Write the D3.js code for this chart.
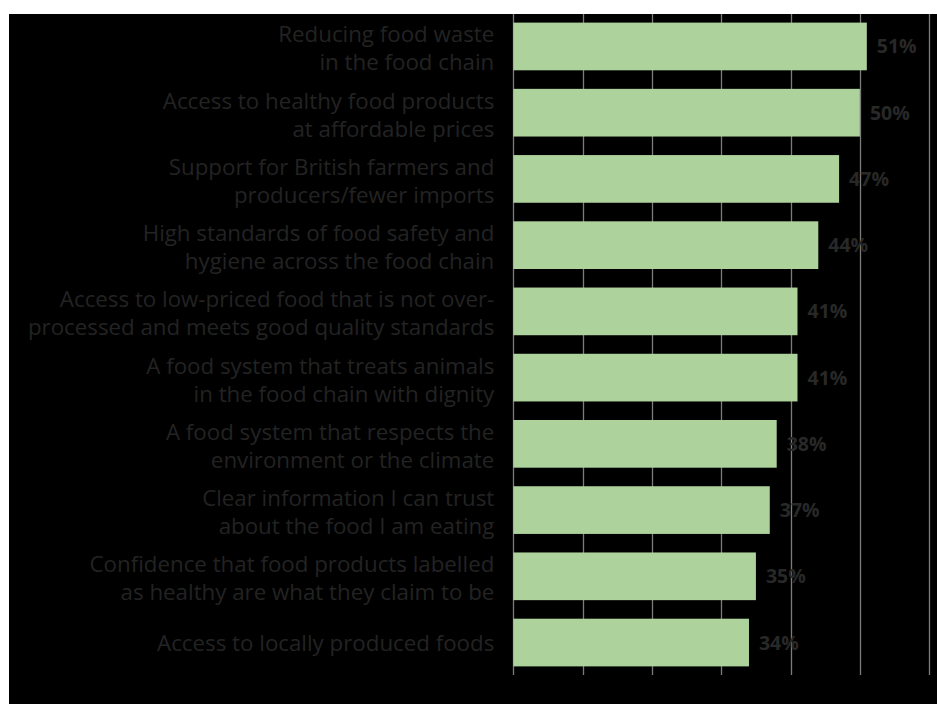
<!DOCTYPE html>
<html>
<head>
<meta charset="utf-8">
<script src="https://cdn.jsdelivr.net/npm/d3@7"></script>
<style>
  html, body { margin: 0; padding: 0; background: #ffffff; }
  svg { display: block; }
</style>
</head>
<body>
<svg id="chart" width="937" height="704"></svg>
<script>
// Share of respondents naming each aspect as important
const categories = [
  ["Reducing food waste", "in the food chain"],
  ["Access to healthy food products", "at affordable prices"],
  ["Support for British farmers and", "producers/fewer imports"],
  ["High standards of food safety and", "hygiene across the food chain"],
  ["Access to low-priced food that is not over-", "processed and meets good quality standards"],
  ["A food system that treats animals", "in the food chain with dignity"],
  ["A food system that respects the", "environment or the climate"],
  ["Clear information I can trust", "about the food I am eating"],
  ["Confidence that food products labelled", "as healthy are what they claim to be"],
  ["Access to locally produced foods"]
];
const values = [51, 50, 47, 44, 41, 41, 38, 37, 35, 34];
const valueLabels = ["51%", "50%", "47%", "44%", "41%", "41%", "38%", "37%", "35%", "34%"];
const gridTicks = [0, 10, 20, 30, 40, 50, 60];

const svg = d3.select("#chart");
const W = 937, H = 704;
const panel = { left: 9, top: 14 };
const plot = { left: 513.3, right: 929.2, top: 14, bottom: 675 };

// Dark panel
svg.append("rect")
  .attr("x", panel.left).attr("y", panel.top)
  .attr("width", W - panel.left).attr("height", H - panel.top)
  .attr("fill", "#000000");

const x = d3.scaleLinear().domain([0, 60]).range([plot.left, plot.right]);
const y = d3.scaleBand()
  .domain(d3.range(values.length))
  .range([plot.top, plot.bottom])
  .paddingInner(0.28)
  .paddingOuter(0.13);

// Vertical gridlines
svg.append("g")
  .selectAll("line")
  .data(gridTicks)
  .join("line")
  .attr("x1", d => Math.round(x(d)) + 0.5)
  .attr("x2", d => Math.round(x(d)) + 0.5)
  .attr("y1", plot.top)
  .attr("y2", plot.bottom)
  .attr("stroke", "#7c7c7c")
  .attr("stroke-width", 1.3);

// Bars
svg.append("g")
  .selectAll("rect")
  .data(values)
  .join("rect")
  .attr("x", x(0))
  .attr("y", (d, i) => y(i))
  .attr("width", d => x(d) - x(0))
  .attr("height", y.bandwidth())
  .attr("fill", "#aed29b");

// Value labels
svg.append("g")
  .selectAll("text")
  .data(values)
  .join("text")
  .attr("x", d => x(d) + 10)
  .attr("y", (d, i) => y(i) + y.bandwidth() / 2)
  .attr("dy", "0.36em")
  .attr("font-family", "'Open Sans', sans-serif")
  .attr("font-weight", 700)
  .attr("font-size", 19.5)
  .attr("fill", "#282828")
  .text((d, i) => valueLabels[i]);

// Category labels (one or two lines, right-aligned)
const lineGap = 28;
const catG = svg.append("g")
  .attr("font-family", "'Open Sans', sans-serif")
  .attr("font-size", 22.3)
  .attr("fill", "#232323")
  .attr("text-anchor", "end");

categories.forEach((lines, i) => {
  const cy = y(i) + y.bandwidth() / 2 + (lines.length > 1 ? 2 : 0);
  const first = cy - (lines.length - 1) * lineGap / 2;
  const t = catG.append("text");
  lines.forEach((s, k) => {
    t.append("tspan")
      .attr("x", plot.left - 19)
      .attr("y", first + k * lineGap)
      .attr("dy", "0.36em")
      .text(s);
  });
});
</script>
</body>
</html>
